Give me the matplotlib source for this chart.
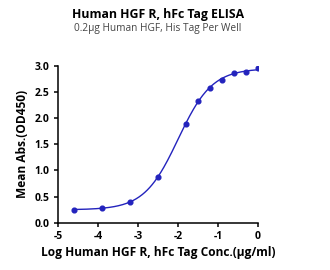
import numpy as np
import matplotlib
matplotlib.use("Agg")
import matplotlib.pyplot as plt

plt.rcParams['font.family'] = ['Open Sans', 'DejaVu Sans']

log_conc = [-4.602, -3.903, -3.204, -2.505, -1.806, -1.505, -1.204, -0.903, -0.602, -0.301, 0.0]
od450 = [0.25, 0.28, 0.40, 0.87, 1.89, 2.33, 2.58, 2.73, 2.85, 2.88, 2.95]

title = "Human HGF R, hFc Tag ELISA"
subtitle = "0.2µg Human HGF, His Tag Per Well"
xlabel = "Log Human HGF R, hFc Tag Conc.(µg/ml)"
ylabel = "Mean Abs.(OD450)"
xticks = [-5, -4, -3, -2, -1, 0]
yticks = [0.0, 0.5, 1.0, 1.5, 2.0, 2.5, 3.0]

x = np.array(log_conc)
y = np.array(od450)

def f(p, xx):
    b, t, c, h = p
    return b + (t - b) / (1 + 10 ** ((c - xx) * h))

# simple Levenberg-Marquardt fit of 4PL
p = np.array([0.25, 2.95, -2.0, 1.0])
lam = 1e-2
for _ in range(200):
    r = y - f(p, x)
    J = np.zeros((len(x), 4))
    for i in range(4):
        dp = np.zeros(4); dp[i] = 1e-6
        J[:, i] = (f(p + dp, x) - f(p - dp, x)) / 2e-6
    A = J.T @ J
    g = J.T @ r
    step = np.linalg.solve(A + lam * np.diag(np.diag(A)), g)
    pn = p + step
    if np.sum((y - f(pn, x)) ** 2) < np.sum(r ** 2):
        p = pn; lam *= 0.5
    else:
        lam *= 4

color = '#2323bd'
fig = plt.figure(figsize=(3.3, 2.7), dpi=100)
ax = fig.add_axes([0.176, 0.175, 0.606, 0.582])
xs = np.linspace(x.min(), x.max(), 300)
ax.plot(xs, f(p, xs), color=color, lw=1.0)
ax.plot(x, y, 'o', color=color, ms=3.4)

ax.set_xlim(-5, 0)
ax.set_ylim(0, 3.0)
ax.set_xticks(xticks)
ax.set_xticklabels([str(t) for t in xticks])
ax.set_yticks(yticks)
ax.set_yticklabels([f"{t:.1f}" for t in yticks])
for s in ['top', 'right']:
    ax.spines[s].set_visible(False)
for s in ['left', 'bottom']:
    ax.spines[s].set_linewidth(1.1)
ax.tick_params(axis='both', length=3, width=1.1, labelsize=7.5, pad=3)
for lab in ax.get_xticklabels() + ax.get_yticklabels():
    lab.set_fontweight('bold')
ax.set_xlabel(xlabel, fontsize=8.6, fontweight='bold', labelpad=3)
ax.set_ylabel(ylabel, fontsize=8.6, fontweight='bold', labelpad=4)
ax.spines['left'].set_clip_on(False)
ax.spines['bottom'].set_clip_on(False)

cx = 0.176 + 0.606 / 2
fig.text(cx, 0.945, title, ha='center', va='center', fontsize=8.8, fontweight='bold')
fig.text(cx, 0.893, subtitle, ha='center', va='center', fontsize=7.3, color='#444444')

fig.savefig("out.png", dpi=100)
